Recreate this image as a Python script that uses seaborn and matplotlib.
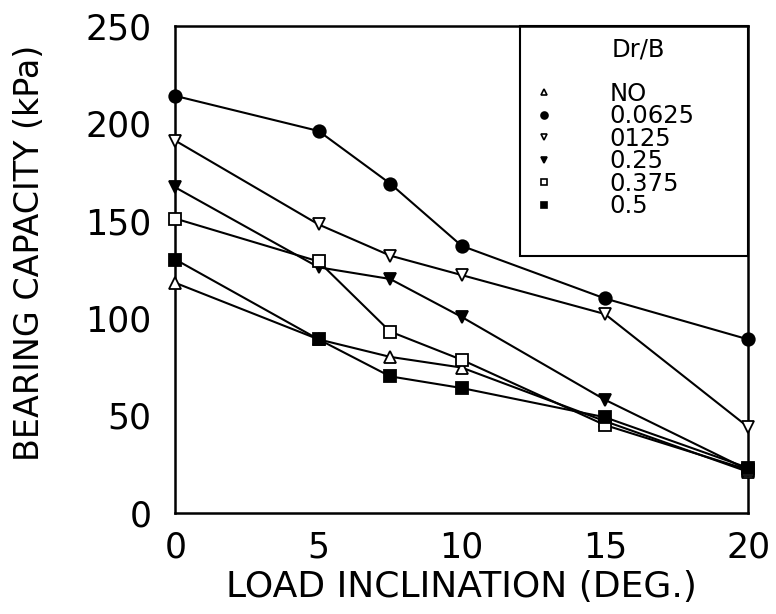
import numpy as np
import pandas as pd
import matplotlib
matplotlib.use('Agg')
import matplotlib.pyplot as plt
import seaborn as sns
from matplotlib.lines import Line2D
from matplotlib.patches import Rectangle

# load inclination (deg.)
angles = [0, 5, 7.5, 10, 15, 20]

# bearing capacity (kPa), one list per Dr/B
no_reinf = [118, 89, 80, 74.5, 47, 21]
dr_0625 = [214, 196, 169, 137, 110, 89]
dr_125 = [191, 148, 132, 122, 102, 44]
dr_25 = [167, 126, 120, 100.5, 58, 22]
dr_375 = [151, 129, 93, 78.5, 45, 22]
dr_5 = [130, 89, 70, 64, 49, 23]

labels = ['NO', '0.0625', '0125', '0.25', '0.375', '0.5']
series = [no_reinf, dr_0625, dr_125, dr_25, dr_375, dr_5]

# marker shape and fill for each series
markers = ['^', 'o', 'v', 'v', 's', 's']
filled = [False, True, False, True, False, True]
msize = [8, 9, 8, 8, 8, 8]

df = pd.DataFrame({
    'angle': angles * len(labels),
    'q': sum(series, []),
    'group': np.repeat(labels, len(angles)),
})

sns.set_style('white')
plt.rcParams['font.family'] = ['DejaVu Sans']
plt.rcParams['text.color'] = 'black'
plt.rcParams['axes.labelcolor'] = 'black'

fig = plt.figure(figsize=(7.76, 6.14), dpi=100)
ax = fig.add_axes([0.226, 0.165, 0.738, 0.793])

for i, lab in enumerate(labels):
    d = df[df['group'] == lab]
    sns.lineplot(data=d, x='angle', y='q', ax=ax, color='black', lw=1.5,
                 marker=markers[i], markersize=msize[i],
                 markerfacecolor='black' if filled[i] else 'white',
                 markeredgecolor='black', markeredgewidth=1.3,
                 legend=False, clip_on=False, zorder=3)

ax.set_xlim(0, 20)
ax.set_ylim(0, 250)
ax.set_xticks([0, 5, 10, 15, 20])
ax.set_yticks([0, 50, 100, 150, 200, 250])
ax.tick_params(axis='both', direction='in', length=7, width=1.3,
               labelsize=25, colors='black')
ax.tick_params(axis='y', pad=17)
ax.tick_params(axis='x', pad=13)
for s in ax.spines.values():
    s.set_color('black')
    s.set_linewidth(1.8)

ax.set_xlabel('LOAD INCLINATION (DEG.)', fontsize=26, labelpad=4)
ax.set_ylabel('BEARING CAPACITY (kPa)', fontsize=24)
ax.yaxis.set_label_coords(-0.226, 0.534)

# legend, drawn without its own frame; box outlined separately
handles = [Line2D([], [], ls='none', marker=markers[i], markersize=5,
                  markerfacecolor='black' if filled[i] else 'white',
                  markeredgecolor='black', markeredgewidth=1.2)
           for i in range(len(labels))]
leg = ax.legend(handles, labels, loc='upper left',
                bbox_to_anchor=(0.601, 0.91), borderaxespad=0, fontsize=17.5,
                frameon=False, labelspacing=-0.06,
                handlelength=1.0, handletextpad=2.2, borderpad=0.5)
ax.text(0.762, 0.951, 'Dr/B', transform=ax.transAxes, fontsize=17.5,
        ha='left', va='center')
ax.add_patch(Rectangle((0.601, 0.528), 0.399, 0.472, transform=ax.transAxes,
                       fill=False, edgecolor='black', lw=1.5, zorder=4,
                       clip_on=False))

fig.savefig('out.png', dpi=100)
